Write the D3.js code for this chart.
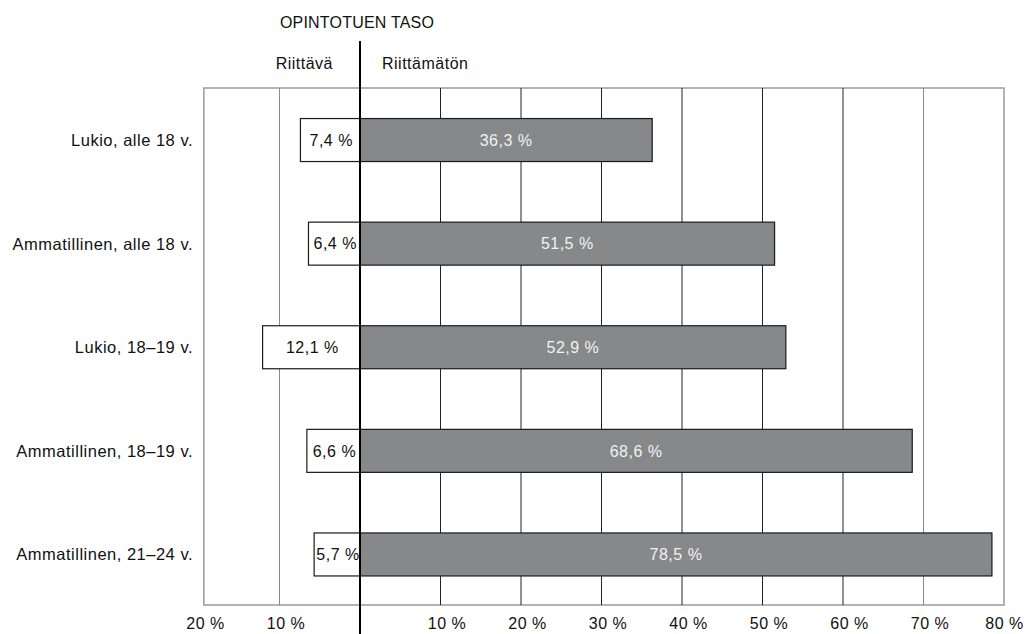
<!DOCTYPE html>
<html>
<head>
<meta charset="utf-8">
<script src="https://cdn.jsdelivr.net/npm/d3@7"></script>
<style>
  html, body { margin: 0; padding: 0; background: #fff; }
  text { font-family: "Liberation Sans", Arial, sans-serif; font-size: 16px; letter-spacing: 0.5px; fill: #111; }
</style>
</head>
<body>
<svg id="chart" width="1028" height="634"></svg>
<script>
// ---- Data ----
const categories = [
  "Lukio, alle 18 v.",
  "Ammatillinen, alle 18 v.",
  "Lukio, 18–19 v.",
  "Ammatillinen, 18–19 v.",
  "Ammatillinen, 21–24 v."
];
const riittava   = [7.4, 6.4, 12.1, 6.6, 5.7];      // left side (Riittävä)
const riittamaton = [36.3, 51.5, 52.9, 68.6, 78.5];  // right side (Riittämätön)
const tickValues = [-20, -10, 10, 20, 30, 40, 50, 60, 70, 80];
const gridValues = [-10, 10, 20, 30, 40, 50, 60, 70];
const title = "OPINTOTUEN TASO";
const leftHeader = "Riittävä";
const rightHeader = "Riittämätön";

const fmt = v => d3.format(".1f")(v).replace(".", ",") + " %";

// ---- Layout ----
const svg = d3.select("#chart");
const x = d3.scaleLinear().domain([-20, 80]).range([199, 1004]);
const frameMin = -19.4, frameMax = 80;
const plotTop = 88, plotBottom = 605;
const y = d3.scaleBand().domain(categories).range([plotTop + 0.5, plotBottom + 1])
  .paddingInner(0.585).paddingOuter(0.29);

// Frame
svg.append("rect")
  .attr("x", x(frameMin)).attr("y", plotTop)
  .attr("width", x(frameMax) - x(frameMin)).attr("height", plotBottom - plotTop)
  .attr("fill", "none").attr("stroke", "#9a9a9a").attr("stroke-width", 1.5);

// Gridlines
svg.append("g").selectAll("line").data(gridValues).join("line")
  .attr("x1", d => x(d)).attr("x2", d => x(d))
  .attr("y1", plotTop).attr("y2", plotBottom)
  .attr("stroke", d => (d > 0 && d <= 60) ? "#222" : "#8a8a8a")
  .attr("stroke-width", 1);

// Left bars (Riittävä)
const rows = categories.map((c, i) => ({ c, l: riittava[i], r: riittamaton[i] }));
svg.append("g").selectAll("rect").data(rows).join("rect")
  .attr("x", d => x(-d.l)).attr("y", d => y(d.c))
  .attr("width", d => x(0) - x(-d.l)).attr("height", y.bandwidth())
  .attr("fill", "#fff").attr("stroke", "#1a1a1a").attr("stroke-width", 1.2);

// Right bars (Riittämätön)
svg.append("g").selectAll("rect").data(rows).join("rect")
  .attr("x", x(0)).attr("y", d => y(d.c))
  .attr("width", d => x(d.r) - x(0)).attr("height", y.bandwidth())
  .attr("fill", "#878889").attr("stroke", "#1a1a1a").attr("stroke-width", 1.2);

// Value labels
svg.append("g").selectAll("text").data(rows).join("text")
  .attr("x", d => (x(-d.l) + x(0)) / 2 + 1)
  .attr("y", d => y(d.c) + y.bandwidth() / 2)
  .attr("dy", "0.36em").attr("text-anchor", "middle")
  .text(d => fmt(d.l));
svg.append("g").selectAll("text").data(rows).join("text")
  .attr("x", d => (x(0) + x(d.r)) / 2)
  .attr("y", d => y(d.c) + y.bandwidth() / 2)
  .attr("dy", "0.36em").attr("text-anchor", "middle")
  .style("fill", "#f2f2f2")
  .text(d => fmt(d.r));

// Category labels
svg.append("g").selectAll("text").data(categories).join("text")
  .attr("x", 193).attr("y", d => y(d) + y.bandwidth() / 2)
  .attr("dy", "0.36em").attr("text-anchor", "end")
  .style("font-size", "16.5px")
  .text(d => d);

// Bottom axis tick labels
const axis = d3.axisBottom(x).tickValues(tickValues).tickSize(0)
  .tickFormat(d => Math.abs(d) + " %");
const ax = svg.append("g").attr("transform", `translate(0, ${plotBottom + 10})`).call(axis);
ax.select(".domain").remove();
const lastTick = tickValues[tickValues.length - 1];
ax.selectAll("text").attr("dx", d => d === lastTick ? 0 : 6)
  .style("font-family", '"Liberation Sans", Arial, sans-serif')
  .style("font-size", "16px").style("fill", "#111");

// Zero line
svg.append("line")
  .attr("x1", x(0)).attr("x2", x(0)).attr("y1", 41).attr("y2", 634)
  .attr("stroke", "#000").attr("stroke-width", 2);

// Headers
svg.append("text").attr("x", x(0) - 3).attr("y", 28).attr("text-anchor", "middle")
  .style("letter-spacing", "0.2px").text(title);
svg.append("text").attr("x", x(0) - 27).attr("y", 69).attr("text-anchor", "end").text(leftHeader);
svg.append("text").attr("x", x(0) + 22).attr("y", 69).attr("text-anchor", "start").text(rightHeader);
</script>
</body>
</html>
